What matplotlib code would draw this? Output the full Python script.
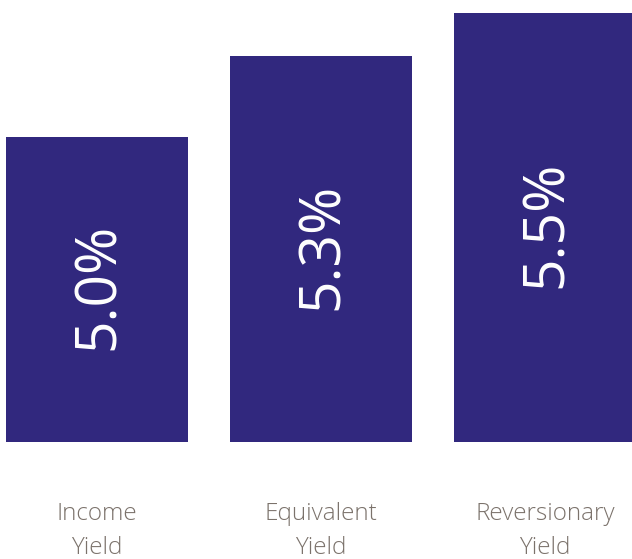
import matplotlib
matplotlib.use("Agg")
import matplotlib.pyplot as plt

categories = ["Income\nYield", "Equivalent\nYield", "Reversionary\nYield"]
values = [4.97, 5.294, 5.466]
value_labels = ["5.0%", "5.3%", "5.5%"]

bar_color = "#31287e"
text_gray = "#7b726b"

fig = plt.figure(figsize=(6.32, 5.59), dpi=100)
ax = fig.add_axes([0, (559-442)/559, 1, 442/559])
x = list(range(len(categories)))
base = 3.75
bars = ax.bar(x, [v - base for v in values], bottom=base, width=0.8125, color=bar_color)
ax.set_xlim(-97/224, (632-97)/224)
ax.set_ylim(base, base + 442/250)
ax.axis("off")

for xi, v, lab in zip(x, values, value_labels):
    ax.text(xi + 0.01, (base + v) / 2 + 0.012, lab, rotation=90, ha="center", va="center",
            color="white", fontsize=41, family=["Open Sans", "DejaVu Sans"], fontweight="normal")

for xi, cat in zip(x, categories):
    fig.text((97 + 224*xi) / 632, 1 - 531/559, cat, ha="center", va="center",
             color=text_gray, fontsize=17.5, linespacing=1.5,
             family=["Open Sans", "DejaVu Sans"], fontweight="light")

fig.savefig("out.png", dpi=100)
